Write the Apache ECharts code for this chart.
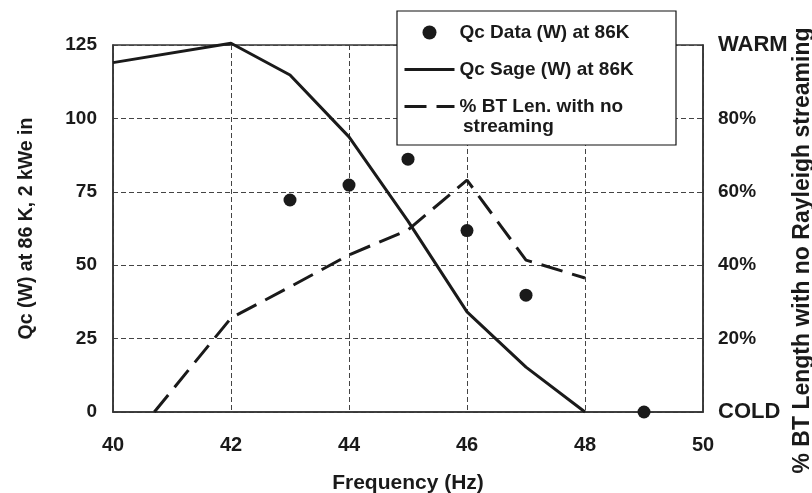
<!DOCTYPE html>
<html>
  <head>
    <meta charset="UTF-8">
    <title>Qc vs frequency</title>
    <script src="https://cdn.jsdelivr.net/npm/echarts@6/dist/echarts.min.js"></script>
  </head>
  <body style="margin:0;background:#fff;">
    <div id="myChart" style="width:812px;height:493px;"></div>
    <script type="text/javascript">
      // Qc Sage (W) at 86K  (left axis)
      var freqSage = [40, 42, 43, 44, 45, 46, 47, 48];
      var qcSage = [119, 125.6, 114.8, 93.7, 65, 34.1, 15.3, 0];
      // % BT length with no streaming (right axis)
      var freqBT = [40.7, 42, 43, 44, 45, 46, 47, 48];
      var btPct = [0, 25.6, 34.1, 42.8, 49.6, 63.2, 41.4, 36.5];
      // Qc data points (left axis)
      var freqData = [43, 44, 45, 46, 47, 49];
      var qcData = [72.2, 77.3, 86.1, 61.8, 39.8, 0];

      var font = '"Liberation Sans", Arial, sans-serif';
      var ink = '#1a1a1a';

      function pairs(xs, ys) {
        var out = [];
        for (var i = 0; i < xs.length; i++) out.push([xs[i], ys[i]]);
        return out;
      }

      var gridDash = { color: '#444', width: 1, type: [5, 3] };
      function labelStyle(size) {
        return { color: ink, fontFamily: font, fontWeight: 'bold', fontSize: size };
      }
      var noSymbol = { color: 'transparent', borderWidth: 0, opacity: 0 };

      var myChart = echarts.init(document.getElementById('myChart'));
      var option = {
        animation: false,
        backgroundColor: '#fff',
        grid: {
          left: 113, right: 109, top: 45, bottom: 81,
          containLabel: false, outerBoundsMode: 'none',
          show: true, borderColor: '#333', borderWidth: 1.5, backgroundColor: 'transparent'
        },
        legend: {
          orient: 'vertical',
          left: 403, top: 22,
          padding: 0,
          itemWidth: 50, itemHeight: 14, itemGap: 16,
          z: 101,
          textStyle: { color: ink, fontFamily: font, fontWeight: 'bold', fontSize: 19, lineHeight: 21 },
          formatter: function (name) {
            return name === '% BT Len. with no streaming' ? '% BT Len. with no' : name;
          },
          data: [
            { name: 'Qc Data (W) at 86K', icon: 'circle' },
            { name: 'Qc Sage (W) at 86K', itemStyle: noSymbol, lineStyle: { width: 3 } },
            { name: '% BT Len. with no streaming', itemStyle: noSymbol, lineStyle: { width: 3 } }
          ]
        },
        graphic: [
          {
            type: 'rect', z: 100,
            shape: { x: 397, y: 11, width: 279, height: 134 },
            style: { fill: '#fff', stroke: '#111', lineWidth: 1.2 }
          },
          {
            type: 'text', z: 102, left: 463, top: 117,
            style: { text: 'streaming', fill: ink, font: 'bold 19px ' + font }
          }
        ],
        xAxis: {
          type: 'value', min: 40, max: 50, interval: 2,
          name: 'Frequency (Hz)', nameLocation: 'middle', nameGap: 61,
          nameTextStyle: { color: ink, fontFamily: font, fontWeight: 'bold', fontSize: 21 },
          axisLine: { show: true, lineStyle: { color: '#333', width: 1.5 } },
          axisTick: { show: false },
          axisLabel: Object.assign({ margin: 23 }, labelStyle(20)),
          splitLine: { show: true, lineStyle: gridDash }
        },
        yAxis: [
          {
            type: 'value', min: 0, max: 125, interval: 25,
            name: 'Qc (W) at 86 K, 2 kWe in', nameLocation: 'middle', nameGap: 76,
            nameTextStyle: { color: ink, fontFamily: font, fontWeight: 'bold', fontSize: 19.5 },
            axisLine: { show: true, lineStyle: { color: '#333', width: 1.5 } },
            axisTick: { show: false },
            axisLabel: Object.assign({ margin: 16 }, labelStyle(19)),
            splitLine: { show: true, lineStyle: gridDash }
          },
          {
            type: 'value', min: 0, max: 100, interval: 20, position: 'right',
            name: '% BT Length with no Rayleigh streaming', nameLocation: 'middle', nameGap: 88,
            nameRotate: 90, nameMoveOverlap: false,
            nameTextStyle: {
              color: ink, fontFamily: font, fontWeight: 'bold', fontSize: 23,
              padding: [0, 44, 0, 0]
            },
            axisLine: { show: true, lineStyle: { color: '#333', width: 1.5 } },
            axisTick: { show: false },
            axisLabel: Object.assign({
              margin: 15,
              formatter: function (v) {
                if (v === 0) return '{big|COLD}';
                if (v === 100) return '{big|WARM}';
                return v + '%';
              },
              rich: { big: { fontSize: 22, fontWeight: 'bold', fontFamily: font, color: ink } }
            }, labelStyle(19)),
            splitLine: { show: false }
          }
        ],
        series: [
          {
            name: 'Qc Data (W) at 86K',
            type: 'scatter',
            yAxisIndex: 0,
            symbolSize: 13,
            itemStyle: { color: ink, opacity: 1 },
            clip: false,
            z: 5,
            data: pairs(freqData, qcData)
          },
          {
            name: 'Qc Sage (W) at 86K',
            type: 'line',
            yAxisIndex: 0,
            symbol: 'none',
            clip: false,
            lineStyle: { color: ink, width: 3 },
            itemStyle: { color: ink },
            z: 4,
            data: pairs(freqSage, qcSage)
          },
          {
            name: '% BT Len. with no streaming',
            type: 'line',
            yAxisIndex: 1,
            symbol: 'none',
            lineStyle: { color: ink, width: 3, type: [22, 10] },
            itemStyle: { color: ink },
            z: 4,
            data: pairs(freqBT, btPct)
          }
        ]
      };
      myChart.setOption(option);
    </script>
  </body>
</html>
